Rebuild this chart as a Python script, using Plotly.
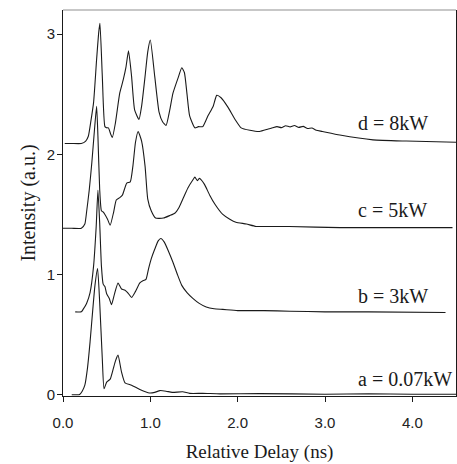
import plotly.graph_objects as go

# ---------------------------------------------------------------- dados (curvas deslocadas)
x_d = [0.02, 0.10, 0.21, 0.26, 0.29, 0.32, 0.35, 0.385, 0.41, 0.423, 0.45, 0.48, 0.50, 0.52, 0.545,
       0.565, 0.60, 0.65, 0.69, 0.72, 0.75, 0.785, 0.82, 0.87, 0.90, 0.94, 0.97, 1.00, 1.05, 1.10,
       1.14, 1.18, 1.22, 1.26, 1.32, 1.36, 1.39, 1.42, 1.45, 1.51, 1.55, 1.60, 1.66, 1.72, 1.76,
       1.81, 1.89, 1.97, 2.04, 2.14, 2.25, 2.35, 2.40, 2.45, 2.50, 2.55, 2.60, 2.65, 2.70, 2.75,
       2.80, 2.85, 2.90, 2.97, 3.17, 3.55, 3.93, 4.50]
y_d = [2.09, 2.09, 2.09, 2.11, 2.15, 2.28, 2.43, 2.79, 3.02, 3.09, 2.65, 2.23, 2.22, 2.22, 2.17,
       2.14, 2.26, 2.51, 2.62, 2.72, 2.86, 2.65, 2.37, 2.29, 2.40, 2.65, 2.85, 2.95, 2.65, 2.35,
       2.27, 2.24, 2.36, 2.51, 2.64, 2.72, 2.68, 2.50, 2.32, 2.22, 2.23, 2.23, 2.32, 2.40, 2.49,
       2.47, 2.39, 2.29, 2.22, 2.20, 2.19, 2.21, 2.22, 2.23, 2.222, 2.238, 2.228, 2.24, 2.224, 2.232,
       2.215, 2.218, 2.20, 2.19, 2.16, 2.12, 2.11, 2.10]

x_c = [0.0, 0.10, 0.21, 0.25, 0.27, 0.30, 0.33, 0.36, 0.385, 0.40, 0.42, 0.44, 0.46, 0.48, 0.51,
       0.54, 0.58, 0.61, 0.65, 0.68, 0.73, 0.77, 0.80, 0.83, 0.86, 0.90, 0.94, 0.97, 1.01, 1.06,
       1.15, 1.22, 1.28, 1.33, 1.38, 1.43, 1.49, 1.51, 1.54, 1.56, 1.58, 1.62, 1.68, 1.74, 1.83,
       1.91, 1.98, 2.10, 2.21, 2.40, 2.59, 3.17, 4.46]
y_c = [1.385, 1.385, 1.385, 1.42, 1.52, 1.70, 1.93, 2.20, 2.40, 2.15, 1.71, 1.53, 1.52, 1.50, 1.46,
       1.41, 1.52, 1.62, 1.64, 1.66, 1.76, 1.77, 1.90, 2.10, 2.19, 2.11, 1.90, 1.63, 1.53, 1.47,
       1.47, 1.49, 1.51, 1.56, 1.64, 1.72, 1.79, 1.81, 1.78, 1.80, 1.79, 1.75, 1.66, 1.585, 1.50,
       1.46, 1.435, 1.42, 1.40, 1.40, 1.40, 1.39, 1.39]

x_b = [0.14, 0.21, 0.23, 0.27, 0.31, 0.35, 0.38, 0.40, 0.42, 0.44, 0.46, 0.48, 0.50, 0.53, 0.556,
       0.59, 0.63, 0.67, 0.71, 0.74, 0.785, 0.83, 0.88, 0.92, 0.95, 0.98, 1.01, 1.05, 1.09, 1.12,
       1.16, 1.21, 1.26, 1.31, 1.36, 1.42, 1.49, 1.56, 1.64, 1.73, 1.83, 2.0, 2.3, 2.6, 3.0,
       3.5, 4.38]
y_b = [0.69, 0.69, 0.71, 0.76, 0.85, 1.07, 1.40, 1.70, 1.43, 1.07, 0.92, 0.90, 0.84, 0.80, 0.75,
       0.84, 0.93, 0.88, 0.87, 0.85, 0.81, 0.86, 0.93, 0.95, 0.96, 1.05, 1.13, 1.21, 1.28, 1.30,
       1.27, 1.19, 1.10, 1.00, 0.91, 0.85, 0.80, 0.76, 0.73, 0.715, 0.71, 0.70, 0.70, 0.695, 0.69,
       0.69, 0.685]

x_a = [0.10, 0.19, 0.22, 0.25, 0.28, 0.31, 0.34, 0.366, 0.396, 0.42, 0.45, 0.47, 0.50, 0.54, 0.575,
       0.60, 0.63, 0.67, 0.71, 0.785, 0.88, 0.99, 1.05, 1.11, 1.18, 1.25, 1.37, 1.45, 1.6, 1.8,
       2.25, 3.0, 3.5, 4.0, 4.5]
y_a = [0.0, 0.003, 0.03, 0.08, 0.22, 0.44, 0.70, 0.91, 1.05, 0.77, 0.30, 0.05, 0.105, 0.13, 0.215,
       0.28, 0.33, 0.19, 0.10, 0.08, 0.045, 0.015, 0.02, 0.035, 0.03, 0.02, 0.025, 0.012, 0.012, 0.008,
       0.01, 0.005, 0.008, 0.005, 0.005]

rotulos = ["d = 8kW", "c = 5kW", "b = 3kW", "a = 0.07kW"]
rot_x = [3.36, 3.36, 3.36, 3.36]
rot_y = [2.26, 1.54, 0.82, 0.13]

PRETO = "#1a1a1a"
SERIF = "Liberation Serif, Times New Roman, serif"
SANS = "Liberation Sans, Arial, sans-serif"

fig = go.Figure()
for xs, ys in [(x_a, y_a), (x_b, y_b), (x_c, y_c), (x_d, y_d)]:
    fig.add_trace(go.Scatter(x=xs, y=ys, mode="lines",
                             line=dict(color=PRETO, width=1.1, shape="spline", smoothing=0.5),
                             showlegend=False))

for t, xx, yy in zip(rotulos, rot_x, rot_y):
    fig.add_annotation(x=xx, y=yy, text=t, showarrow=False, xanchor="left", yanchor="middle",
                       font=dict(family=SERIF, size=20, color=PRETO))

# borda superior clara (scan)
fig.add_shape(type="line", xref="paper", yref="paper", x0=0, x1=1, y0=1, y1=1,
              line=dict(color="#b5b5b5", width=1.5))

fig.update_xaxes(range=[0, 4.5], tickvals=[0, 1, 2, 3, 4], tickformat=".1f", automargin=False,
                 showline=True, linecolor=PRETO, linewidth=1, ticks="outside", ticklen=5,
                 tickcolor=PRETO, showgrid=False, zeroline=False, ticklabelstandoff=8,
                 tickfont=dict(family=SANS, size=15, color="#222"),
                 title=dict(text="Relative Delay (ns)", standoff=14,
                            font=dict(family=SERIF, size=19, color=PRETO)))
fig.update_yaxes(range=[-0.01, 3.2], tickvals=[0, 1, 2, 3], automargin=False,
                 showline=True, linecolor=PRETO, linewidth=1, mirror=True,
                 ticks="outside", ticklen=5, tickcolor=PRETO, showgrid=False, zeroline=False,
                 ticklabelstandoff=-1,
                 tickfont=dict(family=SANS, size=15, color="#222"),
                 title=dict(text="Intensity (a.u.)", standoff=5,
                            font=dict(family=SERIF, size=20, color=PRETO)))
fig.update_layout(width=457, height=464, plot_bgcolor="white", paper_bgcolor="white",
                  margin=dict(l=63, r=1, t=10, b=68))

fig.write_html("out.html", config={"displayModeBar": False},
               post_script="document.body.style.margin='0';")
